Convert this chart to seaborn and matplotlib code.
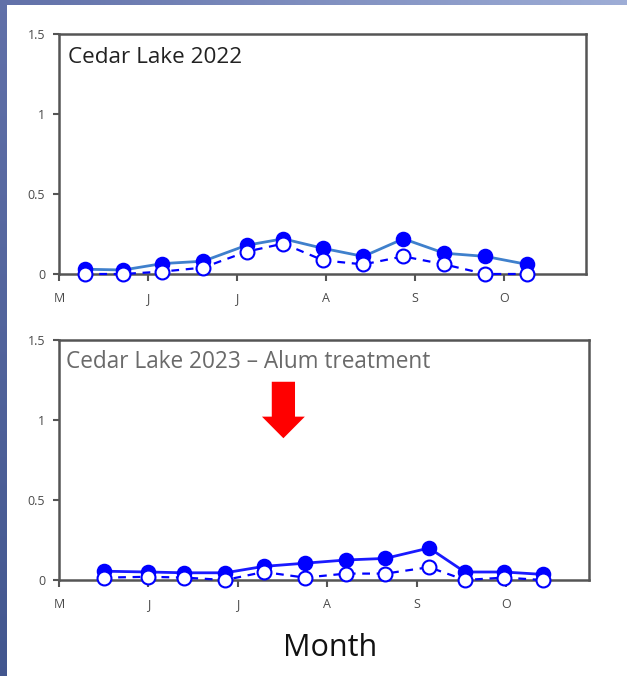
import numpy as np
import pandas as pd
import matplotlib
matplotlib.use("Agg")
import matplotlib.pyplot as plt
import seaborn as sns

# ---------------- data ----------------
month_labels = ["M", "J", "J", "A", "S", "O"]
month_ticks = [0, 1, 2, 3, 4, 5]

# sample dates expressed as months since 1 May
x_2022 = [0.29, 0.72, 1.16, 1.62, 2.11, 2.52, 2.97, 3.42, 3.87, 4.33, 4.79, 5.26]
total_2022 = [0.03, 0.025, 0.065, 0.08, 0.18, 0.22, 0.16, 0.11, 0.22, 0.13, 0.11, 0.06]
dissolved_2022 = [0.0, 0.0, 0.015, 0.04, 0.14, 0.19, 0.085, 0.06, 0.11, 0.06, 0.0, 0.0]

x_2023 = [0.50, 1.00, 1.40, 1.86, 2.29, 2.75, 3.21, 3.65, 4.14, 4.54, 4.98, 5.41]
total_2023 = [0.055, 0.05, 0.045, 0.045, 0.085, 0.105, 0.125, 0.135, 0.20, 0.05, 0.05, 0.035]
dissolved_2023 = [0.015, 0.02, 0.015, 0.0, 0.05, 0.015, 0.04, 0.04, 0.08, 0.0, 0.015, 0.0]

y_ticks = [0, 0.5, 1, 1.5]
y_tick_labels = ["0", "0.5", "1", "1.5"]

titles = ["Cedar Lake 2022", "Cedar Lake 2023 \u2013 Alum treatment"]
treatment_x = 2.51

# ---------------- style ----------------
sns.set_theme(style="white")
plt.rcParams["font.family"] = ["Open Sans", "DejaVu Sans"]

W, H = 627, 676
fig = plt.figure(figsize=(W / 100, H / 100), dpi=100)
fig.patch.set_facecolor("white")

# decorative slide border strips (gradient)
top_strip = fig.add_axes([0, 1 - 5 / H, 1, 5 / H])
grad_h = np.linspace(0, 1, 256)[None, :]
c0 = np.array([0.38, 0.44, 0.66]); c1 = np.array([0.62, 0.68, 0.84])
img = c0[None, None, :] * (1 - grad_h[..., None]) + c1[None, None, :] * grad_h[..., None]
top_strip.imshow(img, aspect="auto")
top_strip.axis("off")

left_strip = fig.add_axes([0, 0, 7 / W, 1 - 5 / H])
grad_v = np.linspace(0, 1, 256)[:, None]
d0 = np.array([0.38, 0.44, 0.66]); d1 = np.array([0.26, 0.34, 0.56])
img2 = d0[None, None, :] * (1 - grad_v[..., None]) + d1[None, None, :] * grad_v[..., None]
left_strip.imshow(img2, aspect="auto")
left_strip.axis("off")

ax1 = fig.add_axes([59 / W, 1 - 274 / H, 527 / W, 240 / H])
ax2 = fig.add_axes([59 / W, 1 - 580 / H, 530 / W, 240 / H])

blue = "#0000ff"
panels = [
    (ax1, x_2022, total_2022, dissolved_2022, "#3f80cc", 527 / 89.0),
    (ax2, x_2023, total_2023, dissolved_2023, "#1a1aff", 530 / 89.4),
]

for i, (ax, xs, tot, dis, solid_col, xmax) in enumerate(panels):
    df_t = pd.DataFrame({"x": xs, "y": tot})
    df_d = pd.DataFrame({"x": xs, "y": dis})
    sns.lineplot(data=df_t, x="x", y="y", ax=ax, color=solid_col, lw=2.0,
                 marker="o", markersize=10, markerfacecolor=blue,
                 markeredgecolor=blue, markeredgewidth=1.2, zorder=3)
    sns.lineplot(data=df_d, x="x", y="y", ax=ax, color=blue, lw=1.6,
                 linestyle=(0, (3.5, 3)), marker="o", markersize=10,
                 markerfacecolor="white", markeredgecolor=blue,
                 markeredgewidth=1.5, zorder=4)
    ax.set_xlim(0, xmax)
    ax.set_ylim(0, 1.5)
    ax.set_xticks(month_ticks)
    ax.set_xticklabels(month_labels)
    ax.set_yticks(y_ticks)
    ax.set_yticklabels(y_tick_labels)
    ax.set_xlabel("")
    ax.set_ylabel("")
    for s in ax.spines.values():
        s.set_visible(True)
        s.set_color("#555555")
        s.set_linewidth(1.8)
        s.set_zorder(2)
    ax.tick_params(axis="x", direction="out", length=5, width=1.5, color="#555555",
                   labelsize=9, labelcolor="#4a4a4a", pad=8, bottom=True)
    ax.tick_params(axis="y", direction="out", length=4, width=1.5, color="#555555",
                   labelsize=9, labelcolor="#4a4a4a", pad=6, left=True)
    ax.set_facecolor("white")
    ax.patch.set_zorder(0)
    for ln in ax.lines:
        ln.set_clip_on(False)

ax1.text(0.017, 0.904, titles[0], transform=ax1.transAxes, fontsize=16.2,
         color="#222222", ha="left", va="center")
ax2.text(0.013, 0.908, titles[1], transform=ax2.transAxes, fontsize=16.3,
         color="#6a6a6a", ha="left", va="center")

ax2.arrow(treatment_x, 1.239, 0, -0.353, width=0.26, head_width=0.48,
          head_length=0.135, length_includes_head=True, color="#ff0000",
          lw=0, zorder=5)

fig.text(330 / W, 1 - 648 / H, "Month", fontsize=22, color="#111111",
         ha="center", va="center")

fig.savefig("out.png", dpi=100, facecolor="white")
